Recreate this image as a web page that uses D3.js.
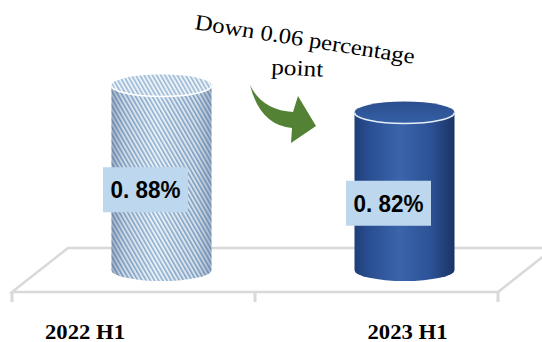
<!DOCTYPE html>
<html><head><meta charset="utf-8">
<script src="https://cdn.jsdelivr.net/npm/d3@7"></script>
<style>body{margin:0;background:#fff}svg{display:block}</style>
</head><body><svg id="c" width="542" height="342"></svg>
<script>
const categories = ["2022 H1", "2023 H1"];
const values = [0.88, 0.82];
const valueLabels = ["0. 88%", "0. 82%"];
const annotationLines = ["Down 0.06 percentage", "point"];

const SERIF = '"Liberation Serif"';
const SANS = '"Liberation Sans"';
const svg = d3.select("#c");
const frontY = 292, depthX = 56, depthY = 44;
const baseY = frontY - depthY / 2;
const rx = 50, ry = 11;

const x = d3.scaleBand().domain(categories).range([12, 498]);
const y = d3.scaleLinear().domain([0.47, 0.9]).range([baseY, 76.5]);
const cxOf = c => x(c) + x.bandwidth() / 2 + depthX / 2;

const defs = svg.append("defs");
const pat = defs.append("pattern").attr("id", "stripes")
  .attr("patternUnits", "userSpaceOnUse").attr("width", 3.6).attr("height", 4)
  .attr("patternTransform", "rotate(-30)");
pat.append("rect").attr("width", 3.6).attr("height", 4).attr("fill", "#e6f0f8");
pat.append("rect").attr("width", 1.5).attr("height", 4).attr("fill", "#7fa3c8");

const shade = defs.append("linearGradient").attr("id", "shade");
[[0, "rgba(70,95,130,0.45)"], [0.12, "rgba(70,95,130,0.15)"], [0.45, "rgba(255,255,255,0.12)"],
 [0.85, "rgba(70,95,130,0.12)"], [1, "rgba(70,95,130,0.4)"]]
  .forEach(([o, c]) => shade.append("stop").attr("offset", o).attr("stop-color", c));

const blue = defs.append("linearGradient").attr("id", "blue");
[[0, "#1f3e79"], [0.15, "#2a4f92"], [0.45, "#3a64ab"], [0.75, "#2d5397"], [1, "#1a3365"]]
  .forEach(([o, c]) => blue.append("stop").attr("offset", o).attr("stop-color", c));
const blueTop = defs.append("linearGradient").attr("id", "blueTop").attr("x1", 0).attr("y1", 0).attr("x2", 0).attr("y2", 1);
[[0, "#2b4e8e"], [1, "#3560a6"]].forEach(([o, c]) => blueTop.append("stop").attr("offset", o).attr("stop-color", c));

// floor
const floor = svg.append("g").attr("fill", "none").attr("stroke", "#d9d9d9");
const [r0, r1] = x.range();
floor.append("path").attr("stroke-width", 2.5)
  .attr("d", `M${r0},${frontY}L${r1},${frontY}L${r1 + depthX},${frontY - depthY}L${r0 + depthX},${frontY - depthY}Z`);
const tickXs = [r0, ...categories.slice(1).map(c => x(c)), r1];
floor.selectAll("line.tick").data(tickXs).join("line").attr("class", "tick")
  .attr("x1", d => d).attr("x2", d => d).attr("y1", frontY).attr("y2", frontY + 10)
  .attr("stroke-width", 3);

// bars
const styles = [
  { body: ["url(#stripes)", "url(#shade)"], cap: "url(#stripes)", capOverlay: "rgba(255,255,255,0.2)", rim: "#ffffff" },
  { body: ["url(#blue)"], cap: "url(#blueTop)", capOverlay: null, rim: "#e8eef8" }
];
categories.forEach((c, i) => {
  const cx = cxOf(c), top = y(values[i]);
  const g = svg.append("g");
  const bodyD = `M${cx - rx},${top}L${cx - rx},${baseY}A${rx},${ry} 0 0 0 ${cx + rx},${baseY}L${cx + rx},${top}Z`;
  styles[i].body.forEach(f => g.append("path").attr("d", bodyD).attr("fill", f));
  g.append("ellipse").attr("cx", cx).attr("cy", top).attr("rx", rx).attr("ry", ry).attr("fill", styles[i].cap);
  if (styles[i].capOverlay) g.append("ellipse").attr("cx", cx).attr("cy", top).attr("rx", rx).attr("ry", ry).attr("fill", styles[i].capOverlay);
  g.append("path").attr("d", `M${cx - rx},${top}A${rx},${ry} 0 0 0 ${cx + rx},${top}`)
    .attr("fill", "none").attr("stroke", styles[i].rim).attr("stroke-width", 1.6);
  const lx = cx - 16, ly = (top + baseY) / 2 + 12;
  svg.append("rect").attr("x", lx - 42.5).attr("y", ly - 22.5).attr("width", 85).attr("height", 45).attr("fill", "#bdd7ee");
  svg.append("text").attr("x", lx).attr("y", ly + 8.5).attr("text-anchor", "middle")
    .style("font-family", SANS).style("font-weight", "bold").style("font-size", "23px").attr("fill", "#000")
    .attr("textLength", 70).attr("lengthAdjust", "spacingAndGlyphs").text(valueLabels[i]);
});

// category labels
const labelShift = [-48.5, 31];
svg.selectAll("text.cat").data(categories).join("text").attr("class", "cat")
  .attr("x", (d, i) => x(d) + x.bandwidth() / 2 + labelShift[i]).attr("y", 339)
  .attr("text-anchor", "middle")
  .style("font-family", SERIF).style("font-weight", "bold").style("font-size", "20px")
  .attr("textLength", 80).attr("lengthAdjust", "spacingAndGlyphs").text(d => d);

// annotation
svg.append("text").attr("transform", "translate(194,29) rotate(9) scale(1.12,1)")
  .style("font-family", SERIF).style("font-size", "22px").text(annotationLines[0]);
svg.append("text").attr("transform", "translate(271,74) rotate(3) scale(1.15,1)")
  .style("font-family", SERIF).style("font-size", "22px").text(annotationLines[1]);

// arrow
svg.append("path")
  .attr("d", "M250,85Q262,110 293,112L298,96L316,126L291,143L292,128Q260,125 250,85Z")
  .attr("fill", "#548235");
</script></body></html>
